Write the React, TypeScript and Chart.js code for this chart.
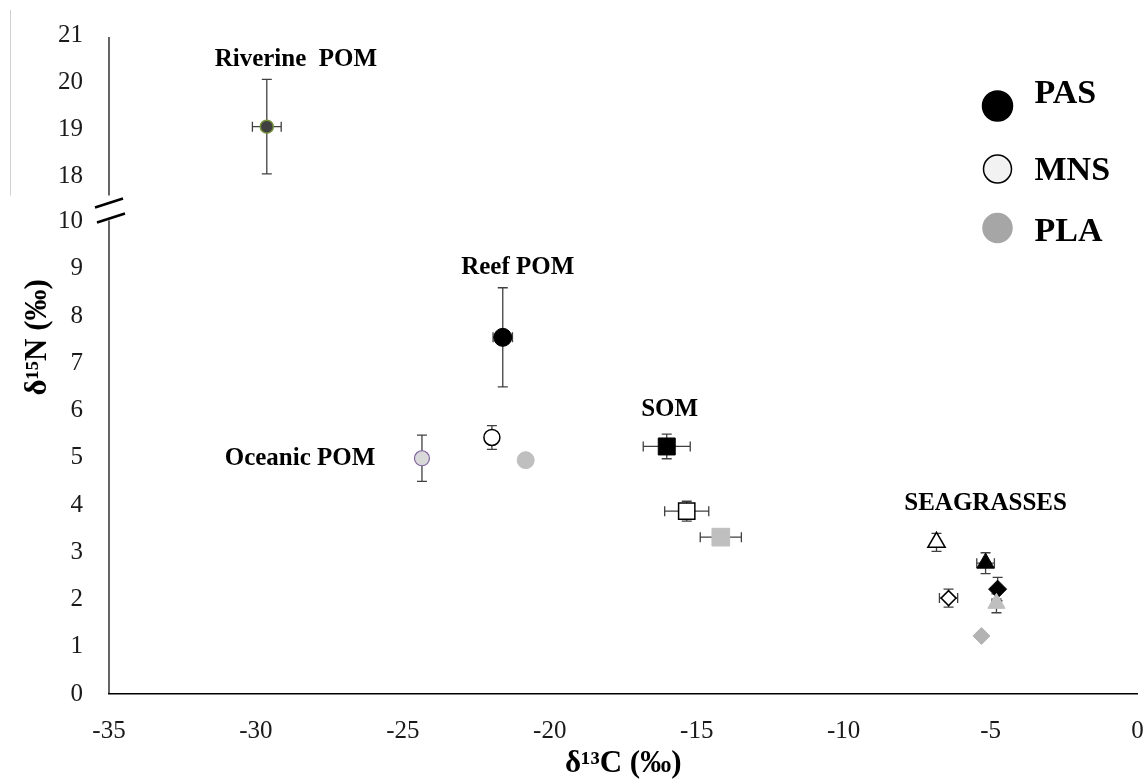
import React, { useEffect, useRef } from "react";
import { Chart, registerables } from "chart.js";

Chart.register(...registerables);

// ---------- DATA ----------
const sampleNames = [
  "Riverine POM",
  "Oceanic POM",
  "Reef POM PAS",
  "Reef POM MNS",
  "Reef POM PLA",
  "SOM PAS",
  "SOM MNS",
  "SOM PLA",
  "Seagrass 1 PAS",
  "Seagrass 1 MNS",
  "Seagrass 1 PLA",
  "Seagrass 2 PAS",
  "Seagrass 2 MNS",
  "Seagrass 2 PLA",
];
const d13C = [-29.63, -24.35, -21.6, -21.97, -20.82, -16.02, -15.34, -14.18, -5.17, -6.84, -4.8, -4.76, -6.43, -5.31];
const d15N = [19.06, 4.99, 7.55, 5.43, 4.95, 5.24, 3.87, 3.32, 2.77, 3.21, 1.92, 2.22, 2.03, 1.23];
const d13CErr = [0.49, 0, 0.33, 0, 0, 0.8, 0.75, 0.7, 0.3, 0, 0.15, 0, 0.31, 0];
const d15NErr = [1.0, 0.49, 1.05, 0.25, 0, 0.26, 0.21, 0.1, 0.22, 0.19, 0.2, 0.25, 0.19, 0];

const xTicks = [-35, -30, -25, -20, -15, -10, -5, 0];
const yLowerTicks = [0, 1, 2, 3, 4, 5, 6, 7, 8, 9, 10];
const yUpperTicks = [18, 19, 20, 21];

const groupLabels = ["Riverine  POM", "Reef POM", "Oceanic POM", "SOM", "SEAGRASSES"];
const groupLabelC = [-28.64, -21.09, -28.5, -15.92, -5.17];
const groupLabelN = [20.47, 9.03, 4.99, 6.03, 4.04];

const legendSites = ["PAS", "MNS", "PLA"];

const xTitle = "δ¹³C (‰)";
const yTitle = "δ¹⁵N (‰)";

// ---------- STYLES ----------
const FONT = "'Liberation Serif', 'Times New Roman', serif";

type MStyle = { shape: string; r: number; fill: string; stroke: string; bw: number };
const markerStyles: MStyle[] = [
  { shape: "circle", r: 6.5, fill: "#404040", stroke: "#76923c", bw: 1.5 },
  { shape: "circle", r: 7.5, fill: "#d9d9d9", stroke: "#8064a2", bw: 1.2 },
  { shape: "circle", r: 9, fill: "#000000", stroke: "#000000", bw: 1 },
  { shape: "circle", r: 8, fill: "#ffffff", stroke: "#000000", bw: 1.5 },
  { shape: "circle", r: 8.5, fill: "#bfbfbf", stroke: "#bfbfbf", bw: 1 },
  { shape: "rect", r: 12, fill: "#000000", stroke: "#000000", bw: 1 },
  { shape: "rect", r: 11.5, fill: "#ffffff", stroke: "#000000", bw: 1.5 },
  { shape: "rect", r: 12.5, fill: "#bfbfbf", stroke: "#bfbfbf", bw: 1 },
  { shape: "triangle", r: 10, fill: "#000000", stroke: "#000000", bw: 1 },
  { shape: "triangle", r: 10, fill: "#ffffff", stroke: "#000000", bw: 1.5 },
  { shape: "triangle", r: 10, fill: "#bfbfbf", stroke: "#bfbfbf", bw: 1 },
  { shape: "rectRot", r: 9, fill: "#000000", stroke: "#000000", bw: 1 },
  { shape: "rectRot", r: 7.5, fill: "#ffffff", stroke: "#000000", bw: 1.5 },
  { shape: "rectRot", r: 8.5, fill: "#b3b3b3", stroke: "#b3b3b3", bw: 1 },
];

const legendColors = [
  { fill: "#000000", stroke: "#000000", r: 15 },
  { fill: "#f2f2f2", stroke: "#000000", r: 14 },
  { fill: "#a6a6a6", stroke: "#a6a6a6", r: 14.5 },
];
const legendCircleDY = [71, 134, 193];
const legendTextDY = [59, 136, 197];

const axisIdFor = (v: number) => (v > 10 ? "yTop" : "y");

// ---------- PLUGINS ----------
const errorBarsPlugin = {
  id: "errorBars",
  beforeDatasetsDraw(chart: any) {
    const ctx = chart.ctx;
    const xs = chart.scales.x;
    ctx.save();
    ctx.strokeStyle = "#404040";
    ctx.lineWidth = 1.3;
    const cap = 5;
    sampleNames.forEach((_, i) => {
      const ys = chart.scales[axisIdFor(d15N[i])];
      const px = xs.getPixelForValue(d13C[i]);
      const py = ys.getPixelForValue(d15N[i]);
      if (d15NErr[i] > 0) {
        const t = ys.getPixelForValue(d15N[i] + d15NErr[i]);
        const b = ys.getPixelForValue(d15N[i] - d15NErr[i]);
        ctx.beginPath();
        ctx.moveTo(px, t);
        ctx.lineTo(px, b);
        ctx.moveTo(px - cap, t);
        ctx.lineTo(px + cap, t);
        ctx.moveTo(px - cap, b);
        ctx.lineTo(px + cap, b);
        ctx.stroke();
      }
      if (d13CErr[i] > 0) {
        const l = xs.getPixelForValue(d13C[i] - d13CErr[i]);
        const r = xs.getPixelForValue(d13C[i] + d13CErr[i]);
        ctx.beginPath();
        ctx.moveTo(l, py);
        ctx.lineTo(r, py);
        ctx.moveTo(l, py - cap);
        ctx.lineTo(l, py + cap);
        ctx.moveTo(r, py - cap);
        ctx.lineTo(r, py + cap);
        ctx.stroke();
      }
    });
    ctx.restore();
  },
};

const axisPlugin = {
  id: "axisBreak",
  afterDraw(chart: any) {
    const ctx = chart.ctx;
    const yl = chart.scales.y;
    const yt = chart.scales.yTop;
    const ax = chart.chartArea.left;
    const p10 = yl.getPixelForValue(10);
    ctx.save();
    // faint frame line at far left
    ctx.strokeStyle = "#d0d0d0";
    ctx.lineWidth = 1;
    ctx.beginPath();
    ctx.moveTo(10.5, 10);
    ctx.lineTo(10.5, p10 - 26);
    ctx.stroke();
    // y axis lines
    ctx.strokeStyle = "#000";
    ctx.lineWidth = 1.2;
    ctx.beginPath();
    ctx.moveTo(ax, yt.getPixelForValue(21) + 2);
    ctx.lineTo(ax, p10 - 26);
    ctx.moveTo(ax, p10 - 1);
    ctx.lineTo(ax, yl.getPixelForValue(0));
    ctx.stroke();
    // break marks
    ctx.lineWidth = 2.6;
    ctx.beginPath();
    ctx.moveTo(ax - 14, p10 - 14);
    ctx.lineTo(ax + 14, p10 - 23);
    ctx.moveTo(ax - 12, p10 + 1);
    ctx.lineTo(ax + 16, p10 - 8);
    ctx.stroke();
    // y title
    ctx.fillStyle = "#000";
    ctx.font = `bold 31px ${FONT}`;
    ctx.textAlign = "center";
    ctx.textBaseline = "middle";
    ctx.translate(38, yl.getPixelForValue(7.55));
    ctx.rotate(-Math.PI / 2);
    ctx.fillText(yTitle, 0, 0);
    ctx.restore();
  },
};

const annotationPlugin = {
  id: "groupLabels",
  afterDatasetsDraw(chart: any) {
    const ctx = chart.ctx;
    const xs = chart.scales.x;
    ctx.save();
    ctx.fillStyle = "#000";
    ctx.font = `bold 25px ${FONT}`;
    ctx.textAlign = "center";
    ctx.textBaseline = "middle";
    groupLabels.forEach((t, i) => {
      const ys = chart.scales[axisIdFor(groupLabelN[i])];
      ctx.fillText(t, xs.getPixelForValue(groupLabelC[i]), ys.getPixelForValue(groupLabelN[i]));
    });
    ctx.restore();
  },
};

const legendPlugin = {
  id: "siteLegend",
  afterDraw(chart: any) {
    const ctx = chart.ctx;
    const { right, top } = chart.chartArea;
    ctx.save();
    legendSites.forEach((name, i) => {
      const c = legendColors[i];
      ctx.beginPath();
      ctx.arc(right - 140, top + legendCircleDY[i], c.r, 0, Math.PI * 2);
      ctx.fillStyle = c.fill;
      ctx.fill();
      ctx.lineWidth = 1.5;
      ctx.strokeStyle = c.stroke;
      ctx.stroke();
      ctx.fillStyle = "#000";
      ctx.font = `bold 34px ${FONT}`;
      ctx.textAlign = "left";
      ctx.textBaseline = "middle";
      ctx.fillText(name, right - 103, top + legendTextDY[i]);
    });
    ctx.restore();
  },
};

// ---------- COMPONENT ----------
export default function App() {
  const ref = useRef<HTMLCanvasElement>(null);

  useEffect(() => {
    if (!ref.current) return;
    const datasets = sampleNames.map((name, i) => {
      const s = markerStyles[i];
      return {
        label: name,
        data: [{ x: d13C[i], y: d15N[i] }],
        yAxisID: axisIdFor(d15N[i]),
        pointStyle: s.shape,
        pointRadius: s.r,
        pointHoverRadius: s.r,
        pointBackgroundColor: s.fill,
        pointBorderColor: s.stroke,
        pointBorderWidth: s.bw,
        showLine: false,
      };
    });

    const tickFont = { family: FONT, size: 25 };
    const yFit = (s: any) => {
      s.width = 109;
      s.paddingTop = 0;
      s.paddingBottom = 0;
    };
    const chart = new Chart(ref.current, {
      type: "scatter",
      data: { datasets: datasets as any },
      options: {
        animation: false,
        responsive: false,
        layout: { padding: { top: 35, left: 0, right: 0, bottom: 0 } },
        plugins: {
          legend: { display: false },
          tooltip: { enabled: false },
        },
        scales: {
          x: {
            type: "linear",
            min: -35,
            max: 0,
            afterBuildTicks: (s: any) => {
              s.ticks = xTicks.map((v) => ({ value: v }));
            },
            afterFit: (s: any) => {
              s.height = 90;
              s.paddingRight = 6;
              s.paddingLeft = 0;
            },
            grid: { display: false, drawTicks: false },
            border: { display: true, color: "#000", width: 1.5 },
            ticks: { font: tickFont, color: "#1a1a1a", padding: 22, maxRotation: 0, autoSkip: false },
            title: {
              display: true,
              text: xTitle,
              font: { family: FONT, size: 31, weight: "bold" },
              color: "#000",
              padding: { top: 0, bottom: 1 },
            },
          },
          y: {
            type: "linear",
            position: "left",
            stack: "n",
            stackWeight: 10.45,
            min: 0,
            max: 10.45,
            afterBuildTicks: (s: any) => {
              s.ticks = yLowerTicks.map((v) => ({ value: v }));
            },
            afterFit: yFit,
            grid: { display: false, drawTicks: false },
            border: { display: false },
            ticks: { font: tickFont, color: "#1a1a1a", padding: 26, autoSkip: false },
          },
          yTop: {
            type: "linear",
            position: "left",
            stack: "n",
            stackWeight: 3.5,
            min: 17.5,
            max: 21,
            afterBuildTicks: (s: any) => {
              s.ticks = yUpperTicks.map((v) => ({ value: v }));
            },
            afterFit: yFit,
            grid: { display: false, drawTicks: false },
            border: { display: false },
            ticks: { font: tickFont, color: "#1a1a1a", padding: 26, autoSkip: false },
          },
        } as any,
      },
      plugins: [errorBarsPlugin, axisPlugin, annotationPlugin, legendPlugin],
    });
    return () => chart.destroy();
  }, []);

  return (
    <div
      style={{
        position: "absolute",
        left: 0,
        top: 0,
        width: 1143,
        height: 784,
        overflow: "hidden",
        background: "#fff",
      }}
    >
      <canvas ref={ref} width={1151} height={784} style={{ display: "block" }} />
    </div>
  );
}
